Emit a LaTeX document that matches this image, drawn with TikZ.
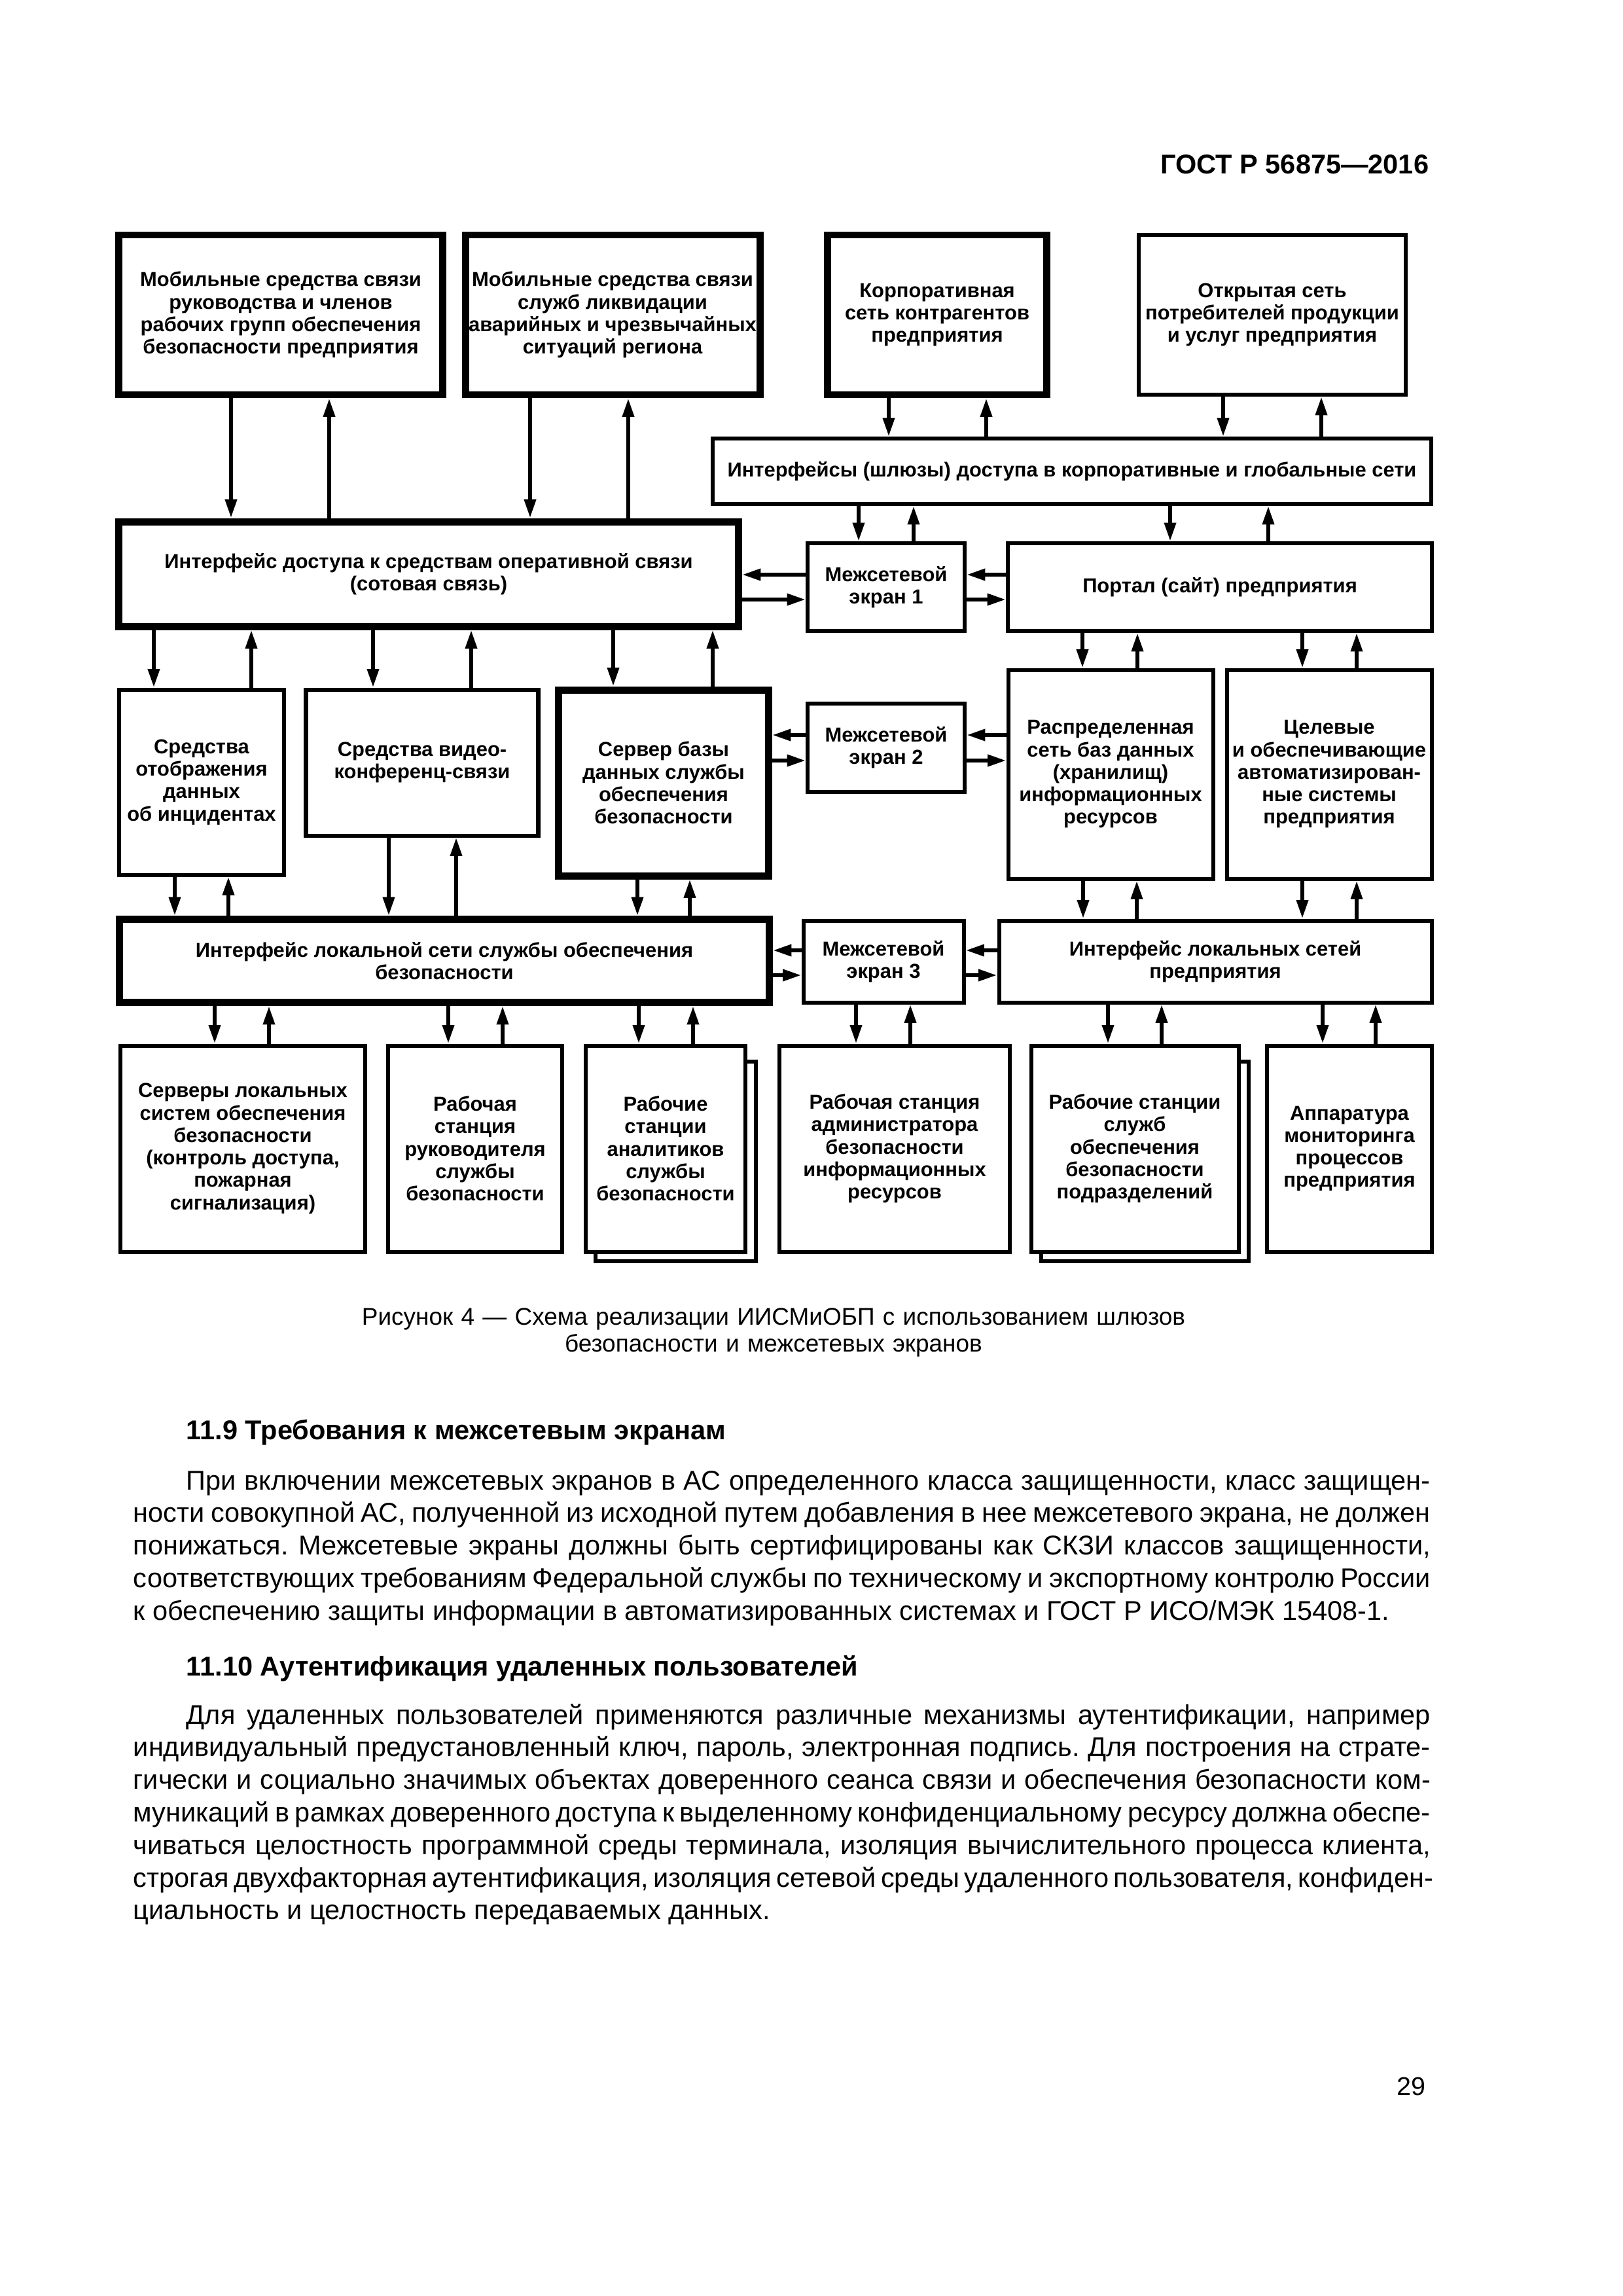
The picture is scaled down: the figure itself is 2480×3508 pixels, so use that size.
\documentclass[tikz,border=0pt]{standalone}
\usepackage{fontspec}
\setmainfont{Liberation Sans}
\usetikzlibrary{arrows.meta}
\frenchspacing
\newlength\px \setlength\px{0.0846667mm}
\newlength\bodywd \setlength\bodywd{1982\px}
\newlength\bodyind \setlength\bodyind{81\px}
\newcommand\boxfont{\fontsize{7.45}{8.25}\selectfont\bfseries}
\newcommand\bodyfont{\fontsize{10}{12}\selectfont}
\newcommand\iline[1]{\hbox to\bodywd{\hskip\bodyind #1}}
\newcommand\jline[1]{\hbox to\bodywd{#1}}
\newcommand\lline[1]{\hbox{#1}}
\tikzset{
  thinbox/.style={draw, fill=white, line width=0.51mm, align=center, font=\boxfont, inner sep=0pt},
  thickbox/.style={thinbox, line width=0.93mm},
  thinline/.style={line width=0.51mm},
  arr/.style={line width=0.51mm, -{Triangle[length=2.4mm, width=1.45mm]}},
  bodytext/.style={anchor=base west, inner sep=0pt, font=\bodyfont}
}
\begin{document}
\begin{tikzpicture}[x=0.0846667mm, y=-0.0846667mm]
  \path[fill=white, use as bounding box] (0,0) rectangle (2480,3508);

  \node[anchor=base east, inner sep=0pt, font=\fontsize{10}{12}\selectfont\bfseries] (gost) at (2184,265) {ГОСТ Р 56875—2016};

  \node[thickbox, minimum width=495\px, minimum height=244\px] (mobA) at (429,481) {Мобильные средства связи\\руководства и членов\\рабочих групп обеспечения\\безопасности предприятия};
  \node[thickbox, minimum width=450\px, minimum height=244\px] (mobB) at (936,481) {Мобильные средства связи\\служб ликвидации\\аварийных и чрезвычайных\\ситуаций региона};
  \node[thickbox, minimum width=335\px, minimum height=244\px] (corp) at (1432,481) {Корпоративная\\сеть контрагентов\\предприятия};
  \node[thinbox, minimum width=408\px, minimum height=244\px] (open) at (1944,481) {Открытая сеть\\потребителей продукции\\и услуг предприятия};

  \node[thinbox, minimum width=1098\px, minimum height=100\px] (gates) at (1638,720) {Интерфейсы (шлюзы) доступа в корпоративные и глобальные сети};

  \node[thickbox, minimum width=947\px, minimum height=160\px] (oper) at (655,877) {Интерфейс доступа к средствам оперативной связи\\(сотовая связь)};
  \node[thinbox, minimum width=240\px, minimum height=134\px] (fw1) at (1354,897) {Межсетевой\\экран 1};
  \node[thinbox, minimum width=648\px, minimum height=134\px] (portal) at (1864,897) {Портал (сайт) предприятия};

  \node[thinbox, minimum width=252\px, minimum height=283\px] (incid) at (308,1195) {Средства\\отображения\\данных\\об инцидентах};
  \node[thinbox, minimum width=355\px, minimum height=223\px] (video) at (645,1165) {Средства видео-\\конференц-связи};
  \node[thickbox, minimum width=321\px, minimum height=284\px] (dbsrv) at (1014,1196) {Сервер базы\\данных службы\\обеспечения\\безопасности};
  \node[thinbox, minimum width=240\px, minimum height=135\px] (fw2) at (1354,1142) {Межсетевой\\экран 2};
  \node[thinbox, minimum width=313\px, minimum height=319\px] (distdb) at (1697,1183) {Распределенная\\сеть баз данных\\(хранилищ)\\информационных\\ресурсов};
  \node[thinbox, minimum width=313\px, minimum height=319\px] (target) at (2031,1183) {Целевые\\и обеспечивающие\\автоматизирован-\\ные системы\\предприятия};

  \node[thickbox, minimum width=993\px, minimum height=127\px] (lansec) at (679,1468) {Интерфейс локальной сети службы обеспечения\\безопасности};
  \node[thinbox, minimum width=245\px, minimum height=125\px] (fw3) at (1350,1469) {Межсетевой\\экран 3};
  \node[thinbox, minimum width=661\px, minimum height=125\px] (lanent) at (1857,1469) {Интерфейс локальных сетей\\предприятия};

  \node[thinbox, minimum width=374\px, minimum height=315\px] (locsrv) at (371,1755) {Серверы локальных\\систем обеспечения\\безопасности\\(контроль доступа,\\пожарная\\сигнализация)};
  \node[thinbox, minimum width=266\px, minimum height=315\px] (headws) at (726,1755) {Рабочая\\станция\\руководителя\\службы\\безопасности};
  \draw[thinline] (910,1622) rectangle (1155,1927);
  \node[thinbox, minimum width=244\px, minimum height=315\px] (analws) at (1017,1755) {Рабочие\\станции\\аналитиков\\службы\\безопасности};
  \node[thinbox, minimum width=352\px, minimum height=315\px] (adminws) at (1367,1755) {Рабочая станция\\администратора\\безопасности\\информационных\\ресурсов};
  \draw[thinline] (1591,1622) rectangle (1908,1927);
  \node[thinbox, minimum width=317\px, minimum height=315\px] (deptws) at (1734,1755) {Рабочие станции\\служб\\обеспечения\\безопасности\\подразделений};
  \node[thinbox, minimum width=252\px, minimum height=315\px] (monitor) at (2062,1755) {Аппаратура\\мониторинга\\процессов\\предприятия};

  \draw[arr] (mobA.south -| 353,0) -- (oper.north -| 353,0);
  \draw[arr] (oper.north -| 503,0) -- (mobA.south -| 503,0);
  \draw[arr] (mobB.south -| 810,0) -- (oper.north -| 810,0);
  \draw[arr] (oper.north -| 960,0) -- (mobB.south -| 960,0);
  \draw[arr] (corp.south -| 1358,0) -- (gates.north -| 1358,0);
  \draw[arr] (gates.north -| 1507,0) -- (corp.south -| 1507,0);
  \draw[arr] (open.south -| 1869,0) -- (gates.north -| 1869,0);
  \draw[arr] (gates.north -| 2019,0) -- (open.south -| 2019,0);

  \draw[arr] (gates.south -| 1312,0) -- (fw1.north -| 1312,0);
  \draw[arr] (fw1.north -| 1396,0) -- (gates.south -| 1396,0);
  \draw[arr] (gates.south -| 1788,0) -- (portal.north -| 1788,0);
  \draw[arr] (portal.north -| 1938,0) -- (gates.south -| 1938,0);

  \draw[arr] (fw1.west |- 0,878) -- (oper.east |- 0,878);
  \draw[arr] (oper.east |- 0,916) -- (fw1.west |- 0,916);
  \draw[arr] (portal.west |- 0,878) -- (fw1.east |- 0,878);
  \draw[arr] (fw1.east |- 0,916) -- (portal.west |- 0,916);

  \draw[arr] (oper.south -| 235,0) -- (incid.north -| 235,0);
  \draw[arr] (incid.north -| 384,0) -- (oper.south -| 384,0);
  \draw[arr] (oper.south -| 570,0) -- (video.north -| 570,0);
  \draw[arr] (video.north -| 720,0) -- (oper.south -| 720,0);
  \draw[arr] (oper.south -| 937,0) -- (dbsrv.north -| 937,0);
  \draw[arr] (dbsrv.north -| 1089,0) -- (oper.south -| 1089,0);
  \draw[arr] (portal.south -| 1654,0) -- (distdb.north -| 1654,0);
  \draw[arr] (distdb.north -| 1738,0) -- (portal.south -| 1738,0);
  \draw[arr] (portal.south -| 1990,0) -- (target.north -| 1990,0);
  \draw[arr] (target.north -| 2073,0) -- (portal.south -| 2073,0);

  \draw[arr] (fw2.west |- 0,1123) -- (dbsrv.east |- 0,1123);
  \draw[arr] (dbsrv.east |- 0,1162) -- (fw2.west |- 0,1162);
  \draw[arr] (distdb.west |- 0,1123) -- (fw2.east |- 0,1123);
  \draw[arr] (fw2.east |- 0,1162) -- (distdb.west |- 0,1162);

  \draw[arr] (incid.south -| 267,0) -- (lansec.north -| 267,0);
  \draw[arr] (lansec.north -| 349,0) -- (incid.south -| 349,0);
  \draw[arr] (video.south -| 594,0) -- (lansec.north -| 594,0);
  \draw[arr] (lansec.north -| 697,0) -- (video.south -| 697,0);
  \draw[arr] (dbsrv.south -| 974,0) -- (lansec.north -| 974,0);
  \draw[arr] (lansec.north -| 1054,0) -- (dbsrv.south -| 1054,0);
  \draw[arr] (distdb.south -| 1655,0) -- (lanent.north -| 1655,0);
  \draw[arr] (lanent.north -| 1737,0) -- (distdb.south -| 1737,0);
  \draw[arr] (target.south -| 1990,0) -- (lanent.north -| 1990,0);
  \draw[arr] (lanent.north -| 2073,0) -- (target.south -| 2073,0);

  \draw[arr] (fw3.west |- 0,1452) -- (lansec.east |- 0,1452);
  \draw[arr] (lansec.east |- 0,1490) -- (fw3.west |- 0,1490);
  \draw[arr] (lanent.west |- 0,1452) -- (fw3.east |- 0,1452);
  \draw[arr] (fw3.east |- 0,1490) -- (lanent.west |- 0,1490);

  \draw[arr] (lansec.south -| 328,0) -- (locsrv.north -| 328,0);
  \draw[arr] (locsrv.north -| 411,0) -- (lansec.south -| 411,0);
  \draw[arr] (lansec.south -| 685,0) -- (headws.north -| 685,0);
  \draw[arr] (headws.north -| 768,0) -- (lansec.south -| 768,0);
  \draw[arr] (lansec.south -| 976,0) -- (analws.north -| 976,0);
  \draw[arr] (analws.north -| 1059,0) -- (lansec.south -| 1059,0);
  \draw[arr] (fw3.south -| 1308,0) -- (adminws.north -| 1308,0);
  \draw[arr] (adminws.north -| 1391,0) -- (fw3.south -| 1391,0);
  \draw[arr] (lanent.south -| 1693,0) -- (deptws.north -| 1693,0);
  \draw[arr] (deptws.north -| 1775,0) -- (lanent.south -| 1775,0);
  \draw[arr] (lanent.south -| 2021,0) -- (monitor.north -| 2021,0);
  \draw[arr] (monitor.north -| 2102,0) -- (lanent.south -| 2102,0);

  \node[anchor=base, inner sep=0pt, text width=1500\px, align=center, font=\fontsize{8.9}{10.1}\selectfont] (caption) at (1182,2024) {Рисунок 4 — Схема реализации ИИСМиОБП с использованием шлюзов\\безопасности и межсетевых экранов};

  \node[bodytext, font=\bodyfont\bfseries] (sec119) at (284,2199) {11.9 Требования к межсетевым экранам};
  \node[bodytext] (par119) at (203,2276) {\vtop{%
    \iline{При включении межсетевых экранов в АС определенного класса защищенности, класс защищен-}
    \jline{ности совокупной АС, полученной из исходной путем добавления в нее межсетевого экрана, не должен}
    \jline{понижаться. Межсетевые экраны должны быть сертифицированы как СКЗИ классов защищенности,}
    \jline{соответствующих требованиям Федеральной службы по техническому и экспортному контролю России}
    \lline{к обеспечению защиты информации в автоматизированных системах и ГОСТ Р ИСО/МЭК 15408-1.}}};

  \node[bodytext, font=\bodyfont\bfseries] (sec1110) at (284,2560) {11.10 Аутентификация удаленных пользователей};
  \node[bodytext] (par1110) at (203,2634) {\vtop{%
    \iline{Для удаленных пользователей применяются различные механизмы аутентификации, например}
    \jline{индивидуальный предустановленный ключ, пароль, электронная подпись. Для построения на страте-}
    \jline{гически и социально значимых объектах доверенного сеанса связи и обеспечения безопасности ком-}
    \jline{муникаций в рамках доверенного доступа к выделенному конфиденциальному ресурсу должна обеспе-}
    \jline{чиваться целостность программной среды терминала, изоляция вычислительного процесса клиента,}
    \jline{строгая двухфакторная аутентификация, изоляция сетевой среды удаленного пользователя, конфиден-}
    \lline{циальность и целостность передаваемых данных.}}};

  \node[anchor=base east, inner sep=0pt, font=\fontsize{9.5}{11}\selectfont] (pagenum) at (2179,3201) {29};
\end{tikzpicture}
\end{document}
